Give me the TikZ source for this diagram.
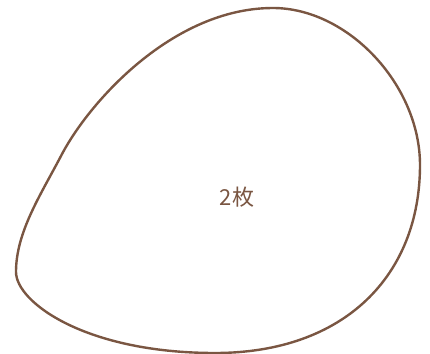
\documentclass[tikz,border=0pt]{standalone}
\usepackage{fontspec}
\newfontfamily\cjk{Noto Sans CJK JP}
\definecolor{blobbrown}{HTML}{7A5642}
\begin{document}
\begin{tikzpicture}[x=0.75pt,y=-0.75pt,
  blob/.style={draw=blobbrown,line width=1.8pt},
  lbl/.style={text=blobbrown,font=\cjk\fontsize{16.5}{18}\selectfont}]
\useasboundingbox (0,0) rectangle (430,354);
\coordinate (top) at (273,8);
\coordinate (right) at (420,165);
\coordinate (bottom) at (215,353);
\coordinate (left) at (16,272);
\coordinate (mid) at (61.5,155);
\draw[blob] (top)
  .. controls (348,8) and (420,85) .. (right)
  .. controls (420,275) and (345,353) .. (bottom)
  .. controls (85,353) and (16,302) .. (left)
  .. controls (16,232) and (40.7,194.9) .. (mid)
  .. controls (89.3,101.8) and (173,8) .. (top) -- cycle;
\node[lbl] (t) at (237,197) {2枚};
\end{tikzpicture}
\end{document}
